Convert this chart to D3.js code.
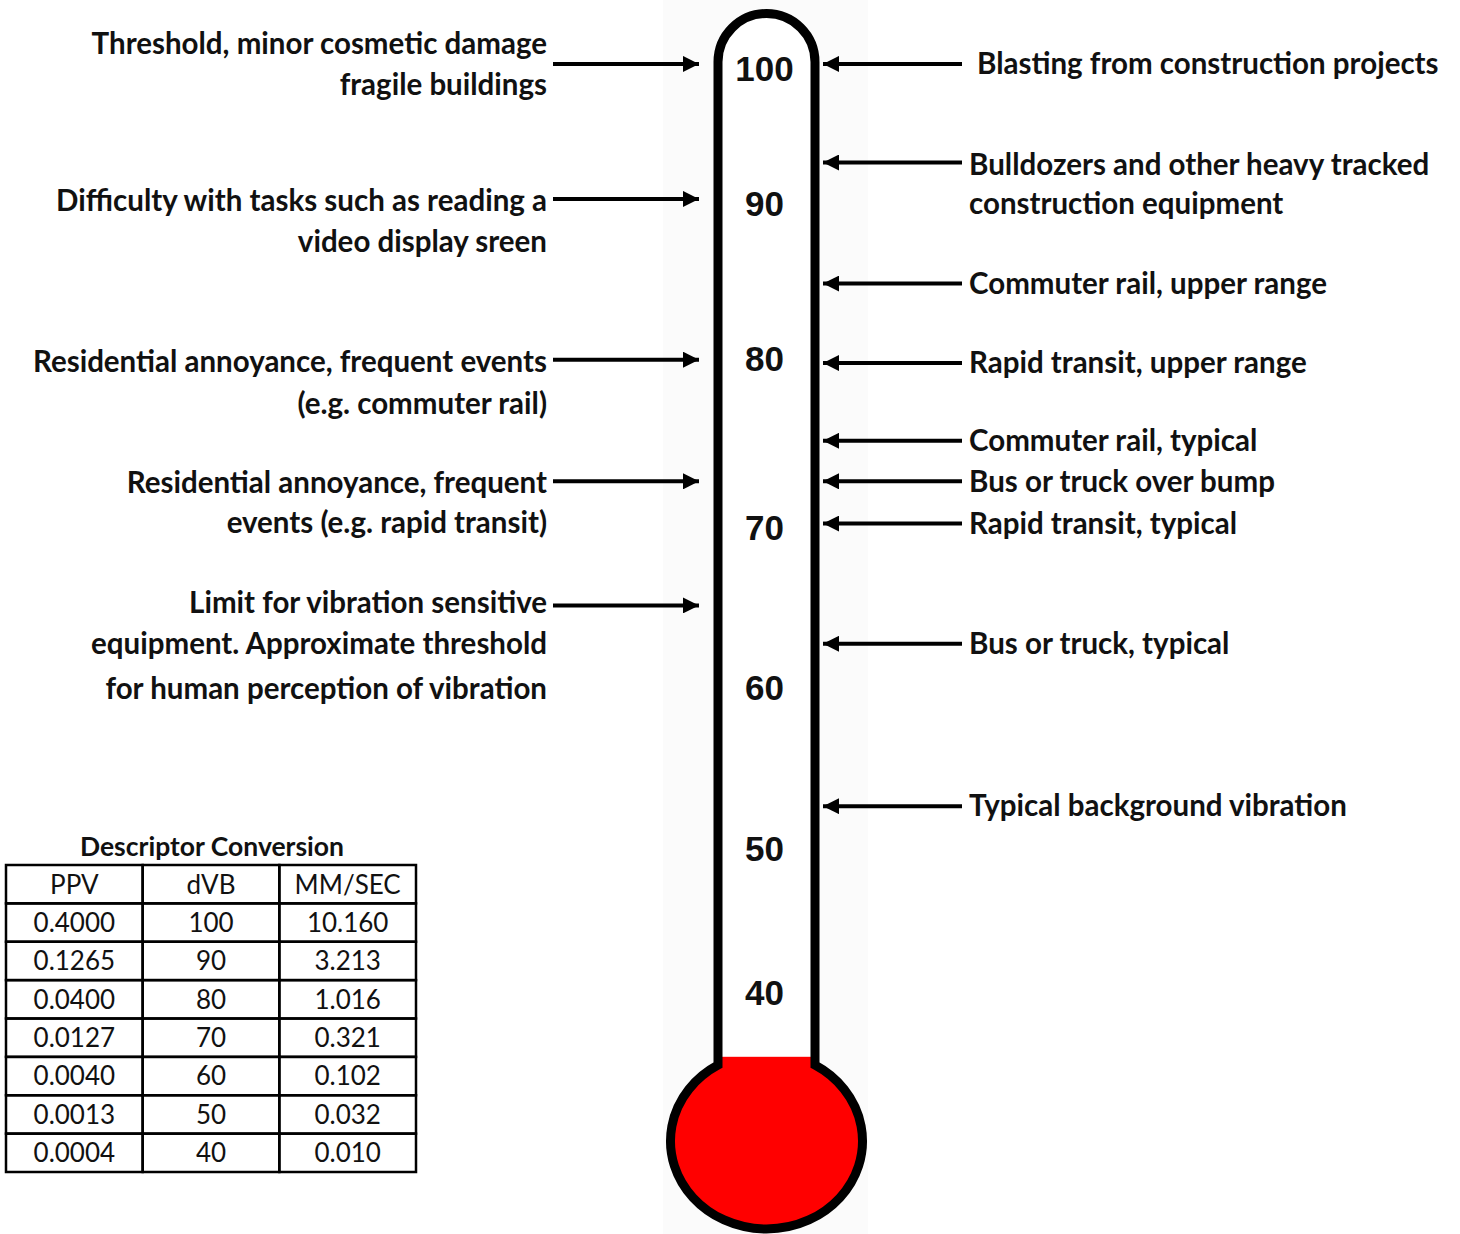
<!DOCTYPE html>
<html>
<head>
    <meta charset="utf-8" />
    <script src="https://d3js.org/d3.v7.min.js"></script>
    <style>
        body {
            margin: 0;
            background: #fff;
        }
        svg text {
            fill: #111;
        }
        .note {
            font-family: Lato, "Open Sans", sans-serif;
            font-weight: 700;
            font-size: 29.5px;
        }
        .tick-label {
            font-family: "Liberation Sans", Arial, sans-serif;
            font-weight: 700;
            font-size: 35px;
        }
        .cell {
            font-family: Lato, "Open Sans", sans-serif;
            font-size: 26px;
        }
    </style>
</head>
<body>
<div id="chart"></div>
<script>
    // dB scale values printed in the tube
    const tickValues = [100, 90, 80, 70, 60, 50, 40];

    // level of the red fluid at the bottom
    const fillLevel = 35.5;

    // left side: criteria (value, lines)
    const leftValues = [100.3, 90.3, 79.9, 72.7, 65.1];
    const leftLabels = [
        ["Threshold, minor cosmetic damage", "fragile buildings"],
        ["Difficulty with tasks such as reading a", "video display sreen"],
        ["Residential annoyance, frequent events", "(e.g. commuter rail)"],
        ["Residential annoyance, frequent", "events (e.g. rapid transit)"],
        ["Limit for vibration sensitive", "equipment. Approximate threshold", "for human perception of vibration"]
    ];

    // right side: sources (value, lines)
    const rightValues = [100.3, 93.0, 84.8, 79.7, 75.1, 72.7, 70.2, 62.7, 52.6];
    const rightLabels = [
        ["Blasting from construction projects"],
        ["Bulldozers and other heavy tracked", "construction equipment"],
        ["Commuter rail, upper range"],
        ["Rapid transit, upper range"],
        ["Commuter rail, typical"],
        ["Bus or truck over bump"],
        ["Rapid transit, typical"],
        ["Bus or truck, typical"],
        ["Typical background vibration"]
    ];

    // conversion table
    const tableTitle = "Descriptor Conversion";
    const tableHeaders = ["PPV", "dVB", "MM/SEC"];
    const ppv = ["0.4000", "0.1265", "0.0400", "0.0127", "0.0040", "0.0013", "0.0004"];
    const dvb = ["100", "90", "80", "70", "60", "50", "40"];
    const mmSec = ["10.160", "3.213", "1.016", "0.321", "0.102", "0.032", "0.010"];

    // ---- layout ----
    const W = 1460, H = 1234;
    // the drawing's scale is hand spaced, so piecewise linear
    const tickY = [68, 203, 358, 527, 687, 848, 992];
    const y = d3.scaleLinear().domain(tickValues).range(tickY);

    const tube = {left: 718, right: 815, top: 62, stroke: 9};
    const bulb = {cx: 766.5, cy: 1141, rx: 96, ry: 88};
    const tubeMid = (tube.left + tube.right) / 2;
    const leftShift = [-20, 2, 2, 1, -3];
    const leftGap = [41, 41, 42, 40, 41];

    const svg = d3.select("#chart")
        .append("svg")
        .attr("width", W)
        .attr("height", H);

    // arrowheads
    const defs = svg.append("defs");
    defs.append("marker")
        .attr("id", "head")
        .attr("viewBox", "0 0 10 10")
        .attr("refX", 10)
        .attr("refY", 5)
        .attr("markerWidth", 4.2)
        .attr("markerHeight", 4)
        .attr("markerUnits", "strokeWidth")
        .attr("orient", "auto")
        .append("path")
        .attr("d", "M0,0 L10,5 L0,10 z")
        .attr("fill", "#000");

    // faint backdrop behind the thermometer
    svg.append("rect")
        .attr("x", 663).attr("y", 0)
        .attr("width", 205).attr("height", H)
        .attr("fill", "#fbfbfb");

    // thermometer outline
    const r = (tube.right - tube.left) / 2;
    const dx = tube.left - bulb.cx;
    const joinY = bulb.cy - bulb.ry * Math.sqrt(1 - (dx * dx) / (bulb.rx * bulb.rx));
    const p = d3.path();
    p.moveTo(tube.left, tube.top);
    p.arc(tubeMid, tube.top, r, Math.PI, 0);
    p.lineTo(tube.right, joinY);
    const outline = p.toString() +
        "A" + bulb.rx + "," + bulb.ry + " 0 1,1 " + tube.left + "," + joinY + "Z";

    defs.append("clipPath").attr("id", "inside")
        .append("path").attr("d", outline);

    svg.append("path")
        .attr("d", outline)
        .attr("fill", "#fff");

    svg.append("rect")
        .attr("clip-path", "url(#inside)")
        .attr("x", bulb.cx - bulb.rx - 10)
        .attr("y", y(fillLevel))
        .attr("width", bulb.rx * 2 + 20)
        .attr("height", H - y(fillLevel))
        .attr("fill", "#ff0000");

    svg.append("path")
        .attr("d", outline)
        .attr("fill", "none")
        .attr("stroke", "#000")
        .attr("stroke-width", tube.stroke);

    // scale labels
    svg.selectAll(".tick-label")
        .data(tickValues)
        .enter()
        .append("text")
        .attr("class", "tick-label")
        .attr("x", tubeMid - 2)
        .attr("y", d => y(d))
        .attr("dy", "0.36em")
        .attr("text-anchor", "middle")
        .text(d => d);

    // left arrows + labels
    const left = svg.selectAll(".left")
        .data(leftValues)
        .enter()
        .append("g")
        .attr("class", "left");

    left.append("line")
        .attr("x1", 553)
        .attr("x2", 699)
        .attr("y1", d => y(d))
        .attr("y2", d => y(d))
        .attr("stroke", "#000")
        .attr("stroke-width", 4)
        .attr("marker-end", "url(#head)");

    left.each(function(d, i) {
        const g = d3.select(this);
        leftLabels[i].forEach(function(line, j) {
            g.append("text")
                .attr("class", "note")
                .attr("x", 547)
                .attr("y", y(d) + leftShift[i] + j * leftGap[i] + (i == 4 && j == 2 ? 4 : 0))
                .attr("dy", "0.35em")
                .attr("text-anchor", "end")
                .text(line);
        });
    });

    // right arrows + labels
    const right = svg.selectAll(".right")
        .data(rightValues)
        .enter()
        .append("g")
        .attr("class", "right");

    right.append("line")
        .attr("x1", 962)
        .attr("x2", 823)
        .attr("y1", d => y(d))
        .attr("y2", d => y(d))
        .attr("stroke", "#000")
        .attr("stroke-width", 4)
        .attr("marker-end", "url(#head)");

    right.each(function(d, i) {
        const g = d3.select(this);
        rightLabels[i].forEach(function(line, j) {
            g.append("text")
                .attr("class", "note")
                .attr("x", i == 0 ? 977 : 969)
                .attr("y", y(d) + (i == 1 ? 2 : 0) + j * 39)
                .attr("dy", "0.35em")
                .text(line);
        });
    });

    // conversion table
    const rows = ppv.map((v, i) => [v, dvb[i], mmSec[i]]);
    const colX = d3.scaleBand().domain(tableHeaders).range([6, 416]);
    const rowY = d3.scaleBand().domain(d3.range(rows.length + 1)).range([865, 1172]);

    svg.append("text")
        .attr("class", "note")
        .attr("x", 212)
        .attr("y", 847)
        .attr("dy", "0.35em")
        .attr("text-anchor", "middle")
        .style("font-size", "26.5px")
        .text(tableTitle);

    const table = svg.append("g");
    [tableHeaders].concat(rows).forEach(function(row, ri) {
        row.forEach(function(val, ci) {
            const col = tableHeaders[ci];
            table.append("rect")
                .attr("x", colX(col))
                .attr("y", rowY(ri))
                .attr("width", colX.bandwidth())
                .attr("height", rowY.bandwidth())
                .attr("fill", "none")
                .attr("stroke", "#000")
                .attr("stroke-width", 2.5);
            table.append("text")
                .attr("class", "cell")
                .attr("x", colX(col) + colX.bandwidth() / 2)
                .attr("y", rowY(ri) + rowY.bandwidth() / 2)
                .attr("dy", "0.36em")
                .attr("text-anchor", "middle")
                .text(val);
        });
    });
</script>
</body>
</html>
